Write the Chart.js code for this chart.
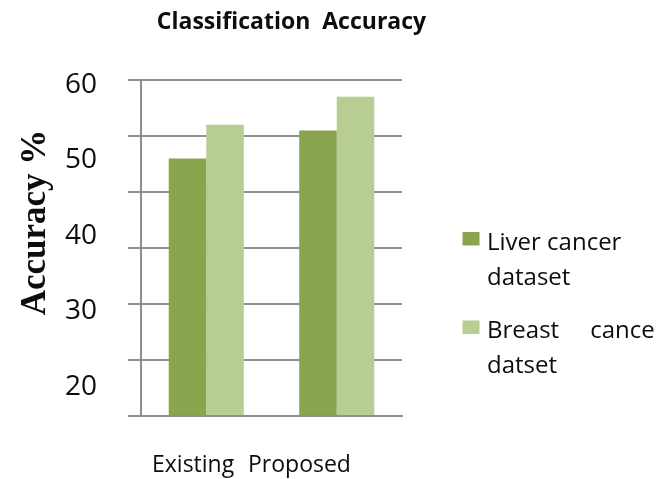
<!DOCTYPE html>
<html>
<head>
<meta charset="utf-8">
<title>Classification Accuracy</title>
<script src="https://cdn.jsdelivr.net/npm/chart.js@4.4.1/dist/chart.umd.min.js"></script>
<style>
  html, body { margin: 0; padding: 0; background: #ffffff; }
  canvas { display: block; }
</style>
</head>
<body>
<canvas id="chart" width="670" height="479"></canvas>
<script>
// Chart text
const chartTitle = 'Classification  Accuracy';
const yAxisTitle = 'Accuracy %';

// Categories and series values (accuracy, %)
const categories = ['Existing', 'Proposed'];
const liverCancer = [46, 51];
const breastCancer = [52, 57];
const seriesNames = ['Liver cancer dataset', 'Breast cance datset'];
const legendLines = [['Liver cancer', 'dataset'], ['Breast     cance', 'datset']];

// Value axis: gridlines every 10 from 0 to 60; printed labels 20..60
const gridMin = 0;
const gridMax = 60;
const gridStep = 10;
const yTickLabels = [20, 30, 40, 50, 60];

const seriesColors = ['#89a54e', '#b8cd94'];
const lineGray = '#8e8e8e';
const textColor = '#0d0d0d';

// Titles, category labels and the two-line legend are painted here
const decorations = {
  id: 'decorations',
  afterDraw(chart) {
    const ctx = chart.ctx;
    const xs = chart.scales.x;
    ctx.save();
    ctx.fillStyle = textColor;
    ctx.textBaseline = 'alphabetic';

    ctx.font = 'bold 23px "Open Sans"';
    ctx.textAlign = 'center';
    ctx.fillText(chartTitle, 291.5, 28.5);

    ctx.save();
    ctx.translate(45, 222.5);
    ctx.rotate(-Math.PI / 2);
    ctx.font = 'bold 35px "Liberation Serif"';
    ctx.textAlign = 'center';
    ctx.fillText(yAxisTitle, 0, 0);
    ctx.restore();

    ctx.font = '23px "Open Sans"';
    ctx.textAlign = 'left';
    const catOffsets = [11, 107];
    categories.forEach((c, i) => ctx.fillText(c, xs.left + catOffsets[i], 471.5));

    ctx.font = '24px "Open Sans"';
    chart.data.datasets.forEach((ds, i) => {
      const base = 249.5 + i * 88.5;
      ctx.fillStyle = ds.backgroundColor;
      ctx.fillRect(462.5, base - 17.5, 17, 13.5);
      ctx.fillStyle = textColor;
      legendLines[i].forEach((line, j) => ctx.fillText(line, 487, base + j * 35));
    });
    ctx.restore();
  }
};

new Chart(document.getElementById('chart'), {
  type: 'bar',
  data: {
    labels: categories,
    datasets: [
      { label: seriesNames[0], data: liverCancer, backgroundColor: seriesColors[0], yAxisID: 'y' },
      { label: seriesNames[1], data: breastCancer, backgroundColor: seriesColors[1], yAxisID: 'y' }
    ]
  },
  options: {
    responsive: false,
    animation: false,
    devicePixelRatio: 1,
    layout: { padding: { top: 80, right: 268, bottom: 0, left: 0 } },
    datasets: { bar: { categoryPercentage: 0.575, barPercentage: 1, borderWidth: 0 } },
    plugins: {
      legend: { display: false },
      title: { display: false },
      tooltip: { enabled: false }
    },
    scales: {
      x: {
        grid: { display: false, drawTicks: false },
        border: { display: true, color: lineGray, width: 2 },
        ticks: { display: false },
        afterFit(scale) { scale.height = 63; }
      },
      y: {
        position: 'left',
        weight: 0,
        min: gridMin,
        max: gridMax,
        ticks: { display: false, stepSize: gridStep },
        grid: { color: lineGray, lineWidth: 2, drawTicks: true, tickLength: 13 },
        border: { display: true, color: lineGray, width: 2 },
        afterFit(scale) { scale.width = 13; }
      },
      yLabels: {
        position: 'left',
        weight: 1,
        min: 16.16,
        max: 60.66,
        grid: { display: false, drawTicks: false, tickLength: 0 },
        border: { display: false },
        ticks: {
          padding: 31,
          color: textColor,
          font: { family: '"Open Sans"', size: 28 }
        },
        afterBuildTicks(scale) { scale.ticks = yTickLabels.map(v => ({ value: v })); },
        afterFit(scale) { scale.width = 128; }
      }
    }
  },
  plugins: [decorations]
});
</script>
</body>
</html>
